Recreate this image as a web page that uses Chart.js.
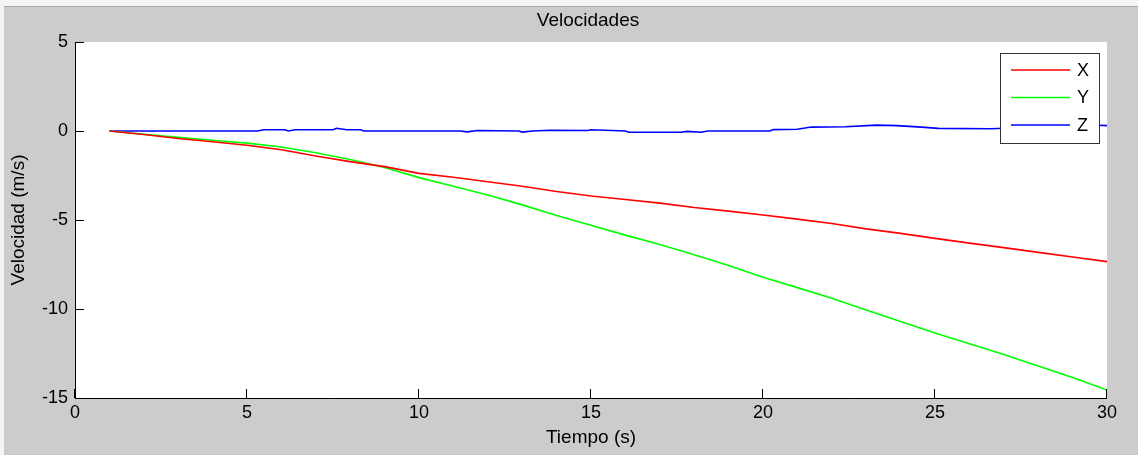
<!DOCTYPE html>
<html>
<head>
<meta charset="utf-8">
<script src="https://cdn.jsdelivr.net/npm/chart.js@4.4.0/dist/chart.umd.min.js"></script>
<style>
  html, body { margin: 0; padding: 0; background: #cccccc; }
  #wrap { width: 1138px; height: 455px; }
</style>
</head>
<body>
<div id="wrap"><canvas id="myChart" width="1138" height="455"></canvas></div>
<script>
// tiempo (s) para X e Y
const tiempo = [1, 2, 3, 4, 5, 6, 7, 8, 9, 10, 11, 12, 13, 14, 15, 16, 17, 18, 19, 20, 21, 22, 23, 24, 25, 26, 27, 28, 29, 30];
const velX = [0, -0.2, -0.42, -0.6, -0.8, -1.05, -1.4, -1.72, -2.0, -2.38, -2.6, -2.85, -3.1, -3.4, -3.65, -3.85, -4.05, -4.3, -4.5, -4.72, -4.95, -5.2, -5.5, -5.75, -6.03, -6.3, -6.55, -6.82, -7.08, -7.34];
const velY = [0, -0.18, -0.36, -0.52, -0.68, -0.9, -1.22, -1.6, -2.05, -2.62, -3.1, -3.6, -4.15, -4.75, -5.3, -5.85, -6.38, -6.95, -7.55, -8.22, -8.8, -9.4, -10.05, -10.7, -11.35, -11.95, -12.55, -13.2, -13.85, -14.55];
// Z tiene su propio muestreo
const tiempoZ = [1, 5.3, 5.5, 6.1, 6.2, 6.4, 7.5, 7.6, 7.9, 8.3, 8.4, 11.2, 11.4, 11.7, 12.9, 13.0, 13.3, 13.8, 14.9, 15.0, 16.0, 16.1, 17.6, 17.8, 18.2, 18.4, 20.2, 20.3, 21.0, 21.4, 22.4, 23.3, 23.9, 24.6, 25.1, 26.6, 27.5, 28.5, 29.5, 29.8, 30];
const velZ = [0, 0, 0.07, 0.07, 0, 0.07, 0.07, 0.15, 0.07, 0.07, 0, 0, -0.05, 0.03, 0, -0.06, 0, 0.04, 0.03, 0.07, 0, -0.07, -0.07, -0.02, -0.07, 0, 0, 0.08, 0.1, 0.22, 0.24, 0.33, 0.3, 0.22, 0.15, 0.13, 0.18, 0.15, 0.2, 0.32, 0.3];

const xTicks = [0, 5, 10, 15, 20, 25, 30];
const yTicks = [5, 0, -5, -10, -15];

const FONT = '"Liberation Sans", Arial, sans-serif';

function toPoints(xs, ys) {
  return xs.map((t, i) => ({ x: t, y: ys[i] }));
}

const matlabLook = {
  id: 'matlabLook',
  beforeDraw(chart) {
    const { ctx, chartArea } = chart;
    ctx.save();
    ctx.fillStyle = '#cccccc';
    ctx.fillRect(0, 0, chart.width, chart.height);
    ctx.fillStyle = '#f4f4f4';
    ctx.fillRect(0, 0, chart.width, 6);
    ctx.fillRect(0, 0, 4, chart.height);
    ctx.fillStyle = '#a8a8a8';
    ctx.fillRect(4, 6, chart.width, 1);
    ctx.fillStyle = '#ffffff';
    ctx.fillRect(chartArea.left, chartArea.top, chartArea.right - chartArea.left, chartArea.bottom - chartArea.top);
    // titulo
    ctx.fillStyle = '#000000';
    ctx.font = '19px ' + FONT;
    ctx.textAlign = 'center';
    ctx.textBaseline = 'middle';
    ctx.fillText('Velocidades', 588, 21);
    ctx.restore();
  },
  afterDraw(chart) {
    const { ctx, chartArea } = chart;
    const xs = chart.scales.x, ys = chart.scales.y;
    ctx.save();
    ctx.strokeStyle = '#000000';
    ctx.lineWidth = 1;
    ctx.beginPath();
    ctx.moveTo(chartArea.left + 0.5, chartArea.top);
    ctx.lineTo(chartArea.left + 0.5, chartArea.bottom + 0.5);
    ctx.lineTo(chartArea.right, chartArea.bottom + 0.5);
    ctx.stroke();
    // marcas hacia dentro
    ctx.beginPath();
    xTicks.forEach(v => {
      const px = Math.round(xs.getPixelForValue(v)) - 0.5;
      ctx.moveTo(px, chartArea.bottom);
      ctx.lineTo(px, chartArea.bottom - 9);
    });
    yTicks.forEach(v => {
      const py = Math.round(ys.getPixelForValue(v)) + 0.5;
      ctx.moveTo(chartArea.left, py);
      ctx.lineTo(chartArea.left + 9, py);
    });
    ctx.stroke();

    // leyenda
    const bx = 1000, by = 53, bw = 99, bh = 90;
    ctx.fillStyle = '#ffffff';
    ctx.fillRect(bx, by, bw, bh);
    ctx.strokeStyle = '#333333';
    ctx.strokeRect(bx + 0.5, by + 0.5, bw, bh);
    ctx.font = '18px ' + FONT;
    ctx.textAlign = 'left';
    ctx.textBaseline = 'middle';
    chart.data.datasets.forEach((ds, i) => {
      const ly = by + 17 + i * 27.5;
      ctx.strokeStyle = ds.borderColor;
      ctx.lineWidth = 1.5;
      ctx.beginPath();
      ctx.moveTo(bx + 11, ly);
      ctx.lineTo(bx + 70, ly);
      ctx.stroke();
      ctx.fillStyle = '#000000';
      ctx.fillText(ds.label, bx + 77, ly + 1);
    });
    ctx.restore();
  }
};

const ctx = document.getElementById('myChart');
new Chart(ctx, {
  type: 'line',
  data: {
    datasets: [
      { label: 'X', data: toPoints(tiempo, velX), borderColor: '#ff0000' },
      { label: 'Y', data: toPoints(tiempo, velY), borderColor: '#00ff00' },
      { label: 'Z', data: toPoints(tiempoZ, velZ), borderColor: '#0000ff' }
    ]
  },
  options: {
    responsive: false,
    animation: false,
    layout: { padding: { top: 42, right: 31, left: 0, bottom: 0 } },
    elements: {
      point: { radius: 0 },
      line: { borderWidth: 1.6, tension: 0 }
    },
    plugins: {
      legend: { display: false },
      title: { display: false },
      tooltip: { enabled: false }
    },
    scales: {
      x: {
        type: 'linear',
        min: 0, max: 30,
        grid: { display: false, drawTicks: false },
        border: { display: false },
        afterBuildTicks: s => { s.ticks = xTicks.map(v => ({ value: v })); },
        afterFit: s => { s.height = 57; },
        ticks: { color: '#000', padding: 4, font: { family: FONT, size: 18 }, maxRotation: 0 },
        title: { display: true, text: 'Tiempo (s)', color: '#000', padding: { top: 0, bottom: 6 }, font: { family: FONT, size: 19 } }
      },
      y: {
        min: -15, max: 5,
        grid: { display: false, drawTicks: false },
        border: { display: false },
        afterBuildTicks: s => { s.ticks = yTicks.map(v => ({ value: v })); },
        afterFit: s => { s.width = 75; },
        ticks: { color: '#000', padding: 7, font: { family: FONT, size: 18 } },
        title: { display: true, text: 'Velocidad (m/s)', color: '#000', padding: { top: 7, bottom: 0 }, font: { family: FONT, size: 19 } }
      }
    }
  },
  plugins: [matlabLook]
});
</script>
</body>
</html>
